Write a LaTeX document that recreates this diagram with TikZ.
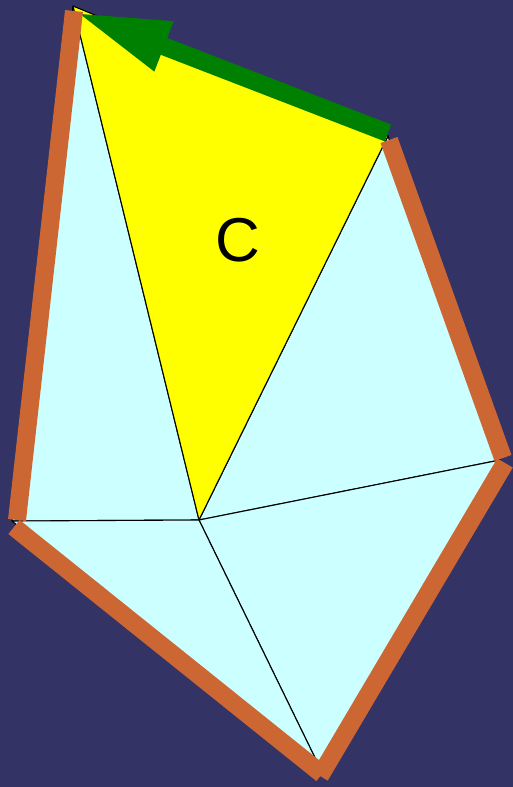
\documentclass[tikz,border=0pt]{standalone}
\usepackage{fontspec}
\setmainfont{Liberation Sans}
\definecolor{bgblue}{RGB}{51,51,102}
\definecolor{lightcyan}{RGB}{204,255,255}
\definecolor{yel}{RGB}{255,255,0}
\definecolor{orangeband}{RGB}{204,102,51}
\definecolor{arrowgreen}{RGB}{0,128,0}
\begin{document}
\begin{tikzpicture}[x=1pt,y=-1pt,
  tri/.style={draw=black,line width=1.1pt,line join=round},
  band/.style={draw=orangeband,line width=18pt,line cap=butt},
  lbl/.style={font=\fontsize{62}{62}\selectfont,text=black,inner sep=0pt}]
\fill[bgblue] (0,0) rectangle (513,787);
\useasboundingbox (0,0) rectangle (513,787);
% vertices
\coordinate (A) at (73,6);
\coordinate (B) at (388,136);
\coordinate (R) at (500,460);
\coordinate (Bo) at (320,768);
\coordinate (L) at (12,521);
\coordinate (O) at (199,520);
% triangles
\filldraw[tri,fill=lightcyan] (A)--(O)--(L)--cycle;
\filldraw[tri,fill=lightcyan] (B)--(R)--(O)--cycle;
\filldraw[tri,fill=lightcyan] (R)--(Bo)--(O)--cycle;
\filldraw[tri,fill=lightcyan] (Bo)--(L)--(O)--cycle;
\filldraw[tri,fill=yel] (A)--(B)--(O)--cycle;
\node[lbl] (c) at (238,240) {C};
% green arrow
\fill[arrowgreen] (391.2,124.6)--(167.2,38.0)--(173.7,21.2)--(80,14)--(154.3,71.6)--(160.8,54.8)--(384.8,141.4)--cycle;
% orange boundary bands
\coordinate (al1) at (74,11);  \coordinate (al2) at (17,520);
\coordinate (br1) at (389,140); \coordinate (br2) at (503,458);
\coordinate (rb1) at (505,463); \coordinate (rb2) at (320,776);
\coordinate (lb1) at (14,527);  \coordinate (lb2) at (322,774);
\draw[band] (al1)--(al2);
\draw[band] (br1)--(br2);
\draw[band] (rb1)--(rb2);
\draw[band] (lb1)--(lb2);
\end{tikzpicture}
\end{document}
